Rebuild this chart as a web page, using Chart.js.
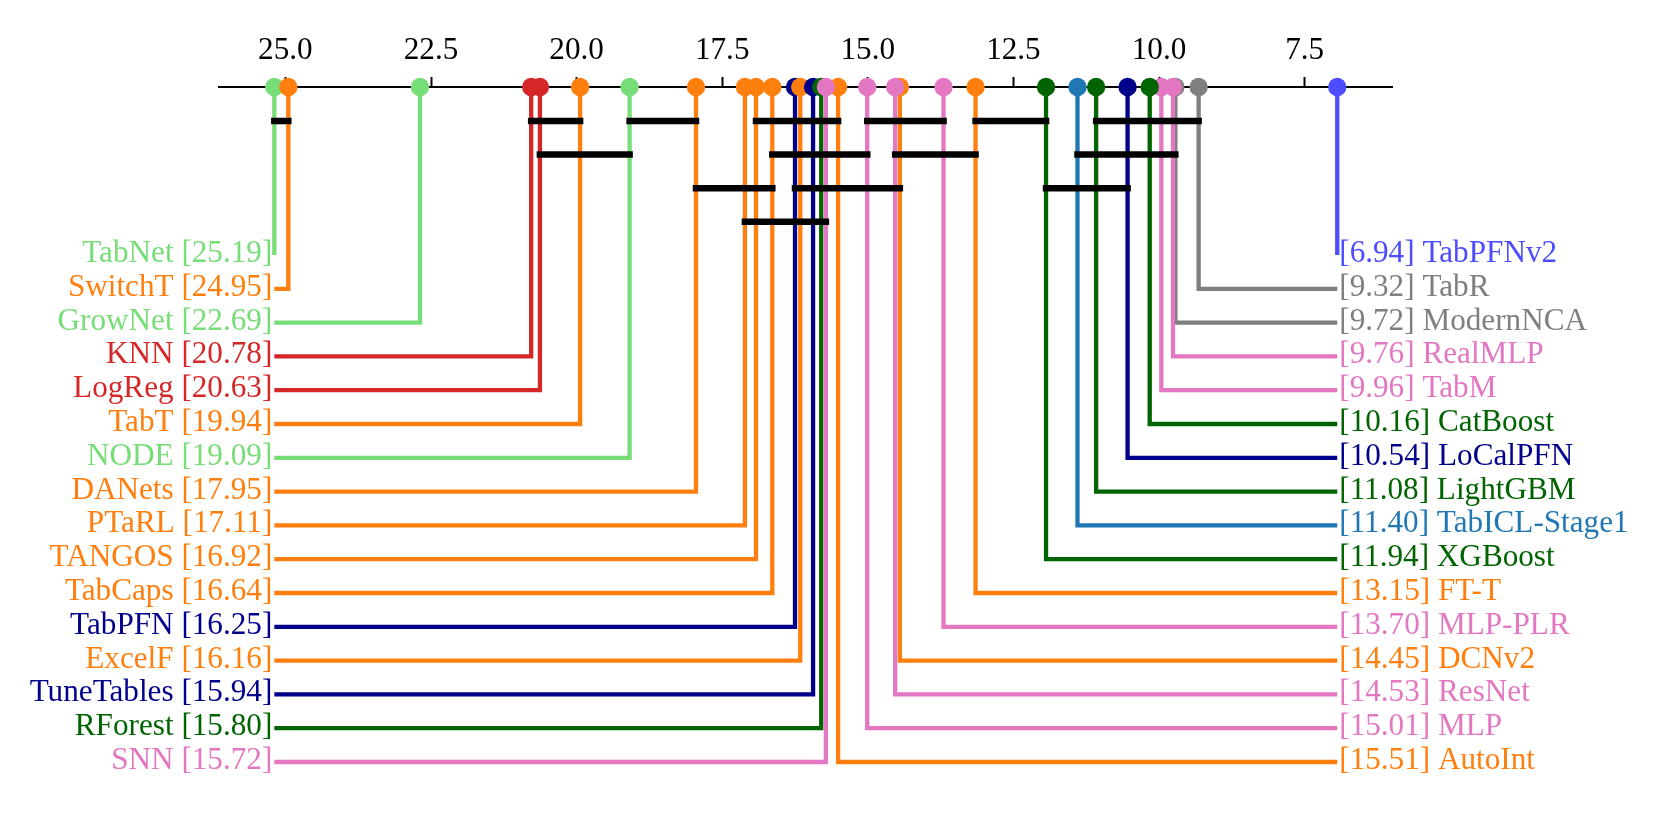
<!DOCTYPE html>
<html>
<head>
<meta charset="utf-8">
<script src="https://cdn.jsdelivr.net/npm/chart.js@4.4.1/dist/chart.umd.min.js"></script>
<style>
  html, body { margin: 0; padding: 0; background: #fff; }
  #wrap { width: 1661px; height: 830px; }
</style>
</head>
<body>
<div id="wrap"><canvas id="cd"></canvas></div>
<script>
// average ranks per method
const models = [
  "TabNet", "SwitchT", "GrowNet", "KNN", "LogReg", "TabT", "NODE", "DANets",
  "PTaRL", "TANGOS", "TabCaps", "TabPFN", "ExcelF", "TuneTables", "RForest", "SNN",
  "AutoInt", "MLP", "ResNet", "DCNv2", "MLP-PLR", "FT-T", "XGBoost", "TabICL-Stage1",
  "LightGBM", "LoCalPFN", "CatBoost", "TabM", "RealMLP", "ModernNCA", "TabR", "TabPFNv2"
];
const avgRanks = [
  25.19, 24.95, 22.69, 20.78, 20.63, 19.94, 19.09, 17.95,
  17.11, 16.92, 16.64, 16.25, 16.16, 15.94, 15.80, 15.72,
  15.51, 15.01, 14.53, 14.45, 13.70, 13.15, 11.94, 11.40,
  11.08, 10.54, 10.16, 9.96, 9.76, 9.72, 9.32, 6.94
];
const axisTicks = [25.0, 22.5, 20.0, 17.5, 15.0, 12.5, 10.0, 7.5];

// groups with no significant difference (rank from, rank to, bar level)
const cliqueFrom  = [25.19, 20.78, 19.09, 16.92, 15.01, 13.15, 11.08, 20.63, 16.64, 14.53, 11.40, 17.95, 16.25, 11.94, 17.11];
const cliqueTo    = [24.95, 19.94, 17.95, 15.51, 13.70, 11.94, 9.32, 19.09, 15.01, 13.15, 9.72, 16.64, 14.45, 10.54, 15.72];
const cliqueLevel = [0, 0, 0, 0, 0, 0, 0, 1, 1, 1, 1, 2, 2, 2, 3];

// colours (style, kept apart from the data)
const LGREEN = "#77dd77", ORANGE = "#ff7f0e", RED = "#d62728", NAVY = "#00008b",
      DGREEN = "#006400", PINK = "#e377c2", GRAY = "#7f7f7f", BLUE = "#1f77b4", VBLUE = "#4d4dff";
const modelColors = {
  TabNet: LGREEN, SwitchT: ORANGE, GrowNet: LGREEN, KNN: RED, LogReg: RED, TabT: ORANGE,
  NODE: LGREEN, DANets: ORANGE, PTaRL: ORANGE, TANGOS: ORANGE, TabCaps: ORANGE, TabPFN: NAVY,
  ExcelF: ORANGE, TuneTables: NAVY, RForest: DGREEN, SNN: PINK, AutoInt: ORANGE, MLP: PINK,
  ResNet: PINK, DCNv2: ORANGE, "MLP-PLR": PINK, "FT-T": ORANGE, XGBoost: DGREEN,
  "TabICL-Stage1": BLUE, LightGBM: DGREEN, LoCalPFN: NAVY, CatBoost: DGREEN, TabM: PINK,
  RealMLP: PINK, ModernNCA: GRAY, TabR: GRAY, TabPFNv2: VBLUE
};

// layout (pixels below the axis line)
const AXIS_Y = 87, AREA_BOTTOM = 800;
const BAR_Y0 = 34, BAR_STEP = 33.6;
const ROW_Y0 = 168, ROW_STEP = 33.8;
const TEXT_DROP = 7; // baseline sits a little under the connector
const FONT_FAMILY = "Liberation Serif", FONT_SIZE = 31.2;

const barY = (lvl) => BAR_Y0 + BAR_STEP * lvl;
const rowY = (r) => ROW_Y0 + ROW_STEP * r;

// worst half on the left, best half on the right
const order = models.map((_, i) => i).sort((a, b) => avgRanks[b] - avgRanks[a]);
const half = Math.ceil(order.length / 2);
const leftSide = order.slice(0, half);
const rightSide = order.slice(half).reverse();
const maxRank = Math.max(...avgRanks);
const minRank = Math.min(...avgRanks);

const datasets = [];
let seq = 0;
const elbow = (m, r, edge) => {
  datasets.push({
    data: [
      { x: avgRanks[m], y: 0 },
      { x: avgRanks[m], y: rowY(r) },
      { x: edge, y: rowY(r) }
    ],
    showLine: true,
    borderColor: modelColors[models[m]],
    borderWidth: 4.3,
    borderJoinStyle: "miter",
    pointRadius: 0,
    clip: false,
    order: 1000 - seq++
  });
};
rightSide.forEach((m, r) => elbow(m, r, minRank));
leftSide.forEach((m, r) => elbow(m, r, maxRank));

cliqueFrom.forEach((from, k) => {
  datasets.push({
    data: [{ x: from, y: barY(cliqueLevel[k]) }, { x: cliqueTo[k], y: barY(cliqueLevel[k]) }],
    showLine: true,
    borderColor: "#000",
    borderWidth: 6.5,
    borderCapStyle: "square",
    pointRadius: 0,
    clip: false,
    order: 2
  });
});

const markerOrder = rightSide.concat(leftSide);
datasets.push({
  data: markerOrder.map((m) => ({ x: avgRanks[m], y: 0 })),
  pointRadius: 9.2,
  pointBorderWidth: 0,
  pointBackgroundColor: markerOrder.map((m) => modelColors[models[m]]),
  clip: false,
  order: 1
});

const labelPlugin = {
  id: "cdLabels",
  afterDatasetsDraw(chart) {
    const { ctx, scales: { x, y } } = chart;
    ctx.save();
    ctx.font = FONT_SIZE + 'px "' + FONT_FAMILY + '"';
    ctx.textBaseline = "alphabetic";
    ctx.textAlign = "right";
    leftSide.forEach((m, r) => {
      ctx.fillStyle = modelColors[models[m]];
      ctx.fillText(models[m] + " [" + avgRanks[m].toFixed(2) + "]",
        x.getPixelForValue(maxRank) - 2, y.getPixelForValue(rowY(r)) + TEXT_DROP);
    });
    ctx.textAlign = "left";
    rightSide.forEach((m, r) => {
      ctx.fillStyle = modelColors[models[m]];
      ctx.fillText("[" + avgRanks[m].toFixed(2) + "] " + models[m],
        x.getPixelForValue(minRank) + 2, y.getPixelForValue(rowY(r)) + TEXT_DROP);
    });
    ctx.restore();
  }
};

new Chart(document.getElementById("cd"), {
  type: "scatter",
  data: { datasets },
  options: {
    responsive: true,
    maintainAspectRatio: false,
    animation: false,
    events: [],
    layout: { padding: { left: 219, right: 269, top: 0, bottom: 830 - AREA_BOTTOM } },
    plugins: { legend: { display: false }, tooltip: { enabled: false } },
    scales: {
      x: {
        type: "linear",
        position: "top",
        reverse: true,
        min: 6.0,
        max: 26.14,
        afterBuildTicks: (s) => { s.ticks = axisTicks.map((v) => ({ value: v })); },
        afterFit: (s) => { s.height = AXIS_Y; },
        grid: { drawOnChartArea: false, drawTicks: true, tickLength: 10, tickWidth: 2, tickColor: "#000" },
        border: { display: true, color: "#000", width: 2 },
        ticks: {
          color: "#000",
          padding: 7,
          autoSkip: false,
          maxRotation: 0,
          font: { family: FONT_FAMILY, size: FONT_SIZE },
          callback: (v) => Number(v).toFixed(1)
        }
      },
      y: { type: "linear", display: false, reverse: true, min: 0, max: AREA_BOTTOM - AXIS_Y }
    }
  },
  plugins: [labelPlugin]
});
</script>
</body>
</html>
